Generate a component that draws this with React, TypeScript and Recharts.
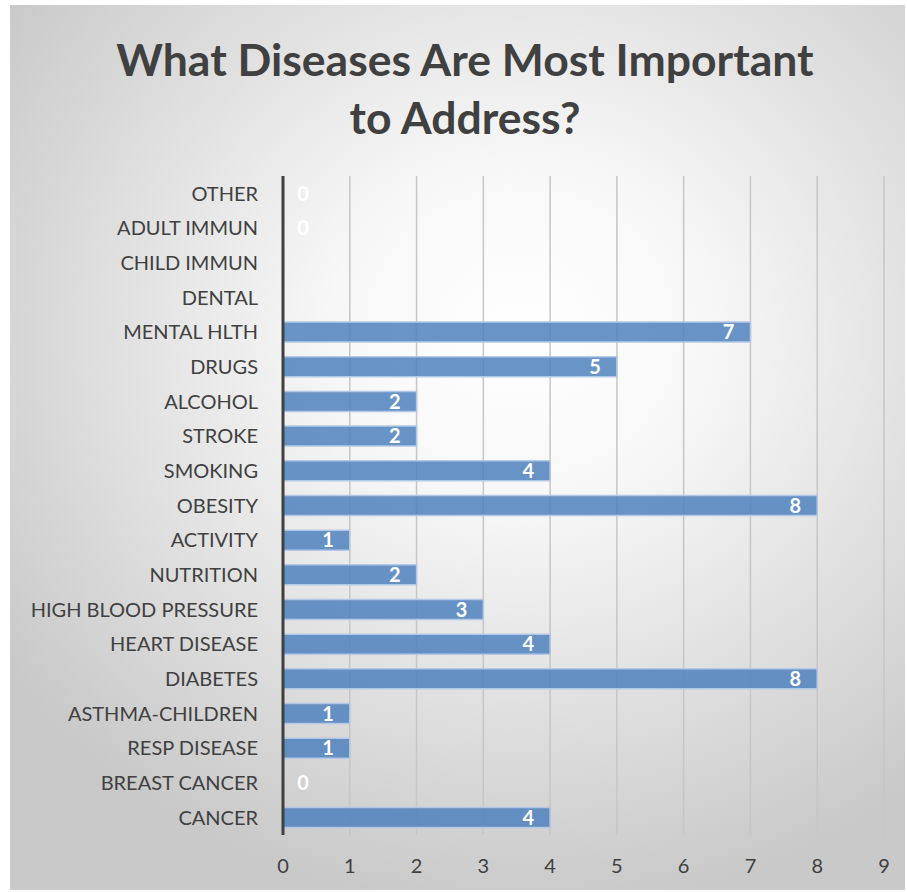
import { FC } from "react";
import {
  BarChart,
  Bar,
  XAxis,
  YAxis,
  CartesianGrid,
  LabelList,
} from "recharts";

// bottom to top, as in the source sheet
const categories = [
  "CANCER",
  "BREAST CANCER",
  "RESP DISEASE",
  "ASTHMA-CHILDREN",
  "DIABETES",
  "HEART DISEASE",
  "HIGH BLOOD PRESSURE",
  "NUTRITION",
  "ACTIVITY",
  "OBESITY",
  "SMOKING",
  "STROKE",
  "ALCOHOL",
  "DRUGS",
  "MENTAL HLTH",
  "DENTAL",
  "CHILD IMMUN",
  "ADULT IMMUN",
  "OTHER",
];

const votes: (number | null)[] = [
  4, 0, 1, 1, 8, 4, 3, 2, 1, 8, 4, 2, 2, 5, 7, null, null, 0, 0,
];

const xTicks = [0, 1, 2, 3, 4, 5, 6, 7, 8, 9];

const data = categories.map((name, i) => ({ name, value: votes[i] }));

const FONT = "Lato, 'Noto Sans', sans-serif";

const ValueLabel = (props: any) => {
  const { x, y, width, height, value } = props;
  if (value === null || value === undefined || Number(value) === 0) return null;
  const cy = Number(y) + Number(height) / 2;
  return (
    <text
      x={Number(x) + Number(width) - 16}
      y={cy}
      dy="0.36em"
      textAnchor="end"
      fill="#ffffff"
      fontSize={20}
      fontWeight={700}
      fontFamily={FONT}
    >
      {value}
    </text>
  );
};

// category tick; zero-valued bars get their "0" label drawn next to the axis here
const CategoryTick = (props: any) => {
  const { x, y, payload } = props;
  const idx = categories.indexOf(payload.value);
  const v = idx >= 0 ? votes[idx] : null;
  return (
    <g>
      <text
        x={x}
        y={y}
        dy="0.36em"
        textAnchor="end"
        fill="#404040"
        fontSize={20}
        fontFamily={FONT}
      >
        {payload.value}
      </text>
      {v === 0 && (
        <text
          x={x + 45}
          y={y}
          dy="0.36em"
          textAnchor="middle"
          fill="#ffffff"
          fontSize={20}
          fontWeight={700}
          fontFamily={FONT}
        >
          0
        </text>
      )}
    </g>
  );
};

const App: FC = () => {
  return (
    <div
      style={{
        position: "absolute",
        left: 10,
        top: 5,
        width: 895,
        height: 885,
        background:
          "radial-gradient(ellipse 70% 65% at 57% 37%, #ffffff 0%, #f7f7f7 30%, #e0e0e0 65%, #c9c9c9 100%)",
        fontFamily: FONT,
      }}
    >
      <div
        style={{
          position: "absolute",
          left: 0,
          top: 25,
          width: 910,
          textAlign: "center",
          fontSize: 44.5,
          fontWeight: 700,
          lineHeight: "58px",
          color: "#404040",
        }}
      >
        What Diseases Are Most Important
        <br />
        to Address?
      </div>
      <BarChart
        width={895}
        height={885}
        data={data}
        layout="vertical"
        margin={{ top: 171, right: 21, left: 0, bottom: 0 }}
        barCategoryGap="21%"
      >
        <CartesianGrid
          horizontal={false}
          stroke="#c6c6c6"
          strokeWidth={1.5}
        />
        <XAxis
          type="number"
          domain={[0, 9]}
          ticks={xTicks}
          axisLine={false}
          tickLine={false}
          tickMargin={18}
          height={55}
          tick={{ fill: "#404040", fontSize: 20, fontFamily: FONT }}
        />
        <YAxis
          type="category"
          dataKey="name"
          reversed
          width={273}
          axisLine={{ stroke: "#404040", strokeWidth: 3 }}
          tickLine={false}
          tickMargin={19}
          interval={0}
          tick={<CategoryTick />}
        />
        <Bar
          dataKey="value"
          fill="#4f81bd"
          fillOpacity={0.85}
          stroke="#b3c8e6"
          strokeWidth={1.5}
          isAnimationActive={false}
        >
          <LabelList dataKey="value" content={ValueLabel} />
        </Bar>
      </BarChart>
    </div>
  );
};

export default App;
